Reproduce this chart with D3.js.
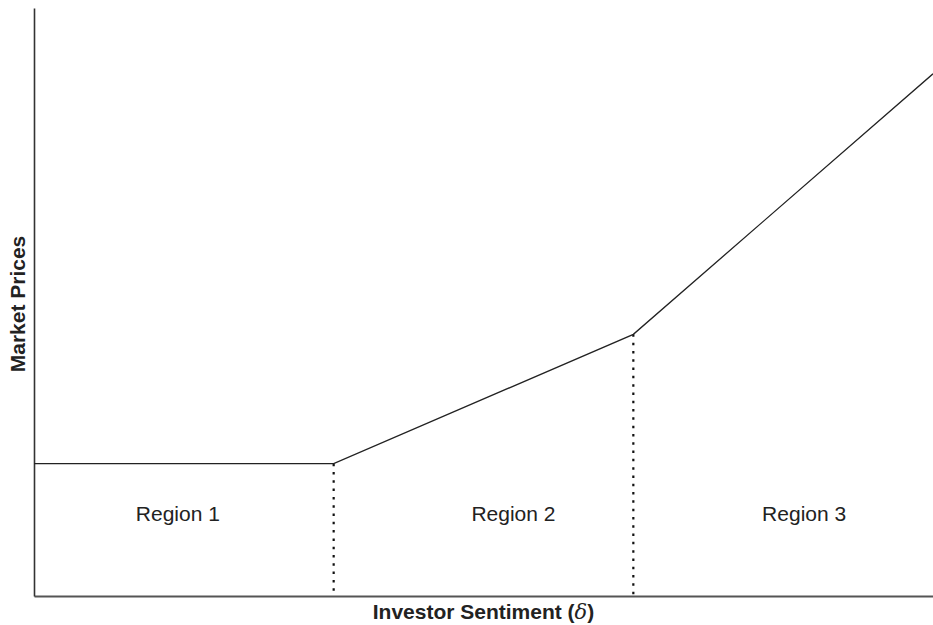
<!DOCTYPE html>
<html>
<head>
<meta charset="utf-8">
<style>
  body { margin: 0; background: #fff; }
  svg { display: block; }
</style>
</head>
<body>
<div id="chart"></div>
<script src="https://cdn.jsdelivr.net/npm/d3@7/dist/d3.min.js"></script>
<script>
  // price path over sentiment: flat, moderate slope, steep slope
  var sentiment = [0, 1, 2, 3];
  var prices = [2.25, 2.25, 4.45, 8.88];
  var kinks = [1, 2];
  var regionNames = ["Region 1", "Region 2", "Region 3"];
  var regionLabelX = [0.48, 1.6, 2.57];
  var regionLabelY = 1.28;

  (function () {
    var w = 933, h = 625;
    var mLeft = 34, mRight = 933, mTop = 8, mBottom = 596;

    var svg = d3.select("#chart").append("svg").attr("width", w).attr("height", h);

    var x = d3.scaleLinear().domain([0, 3]).range([mLeft, mRight]);
    var y = d3.scaleLinear().domain([0, 10]).range([mBottom, mTop]);

    // axes, drawn as plain lines with no ticks
    svg.append("g")
      .attr("transform", "translate(0," + mBottom + ")")
      .call(d3.axisBottom(x).tickValues([]).tickSizeOuter(0))
      .select(".domain").attr("stroke", "#555").attr("stroke-width", 2);

    svg.append("g")
      .attr("transform", "translate(" + mLeft + ",0)")
      .call(d3.axisLeft(y).tickValues([]).tickSizeOuter(0))
      .select(".domain").attr("stroke", "#333").attr("stroke-width", 1.6);

    // dotted region boundaries
    svg.selectAll("line.kink").data(kinks).enter().append("line")
      .attr("class", "kink")
      .attr("x1", function (d) { return x(d); })
      .attr("x2", function (d) { return x(d); })
      .attr("y1", function (d) { return y(prices[sentiment.indexOf(d)]); })
      .attr("y2", mBottom)
      .attr("stroke", "#111")
      .attr("stroke-width", 2.2)
      .attr("stroke-dasharray", "2.5,5.8");

    var line = d3.line()
      .x(function (d, i) { return x(sentiment[i]); })
      .y(function (d) { return y(d); });

    svg.append("path")
      .datum(prices)
      .attr("d", line)
      .attr("fill", "none")
      .attr("stroke", "#222")
      .attr("stroke-width", 1.3);

    svg.selectAll("text.region").data(regionNames).enter().append("text")
      .attr("class", "region")
      .text(function (d) { return d; })
      .attr("x", function (d, i) { return x(regionLabelX[i]); })
      .attr("y", y(regionLabelY))
      .attr("text-anchor", "middle")
      .attr("font-family", "Liberation Sans, Arial, sans-serif")
      .attr("font-size", 21)
      .attr("fill", "#222");

    var xl = svg.append("text")
      .attr("x", (mLeft + mRight) / 2)
      .attr("y", 619)
      .attr("text-anchor", "middle")
      .attr("font-family", "Liberation Sans, Arial, sans-serif")
      .attr("font-size", 21)
      .attr("font-weight", "bold")
      .attr("fill", "#222");
    xl.append("tspan").text("Investor Sentiment (");
    xl.append("tspan").text("δ")
      .attr("font-family", "DejaVu Serif, serif")
      .attr("font-style", "italic")
      .attr("font-weight", "normal");
    xl.append("tspan").text(")");

    svg.append("text")
      .text("Market Prices")
      .attr("transform", "translate(25," + ((mTop + mBottom) / 2 + 2) + ") rotate(-90)")
      .attr("text-anchor", "middle")
      .attr("font-family", "Liberation Sans, Arial, sans-serif")
      .attr("font-size", 21)
      .attr("font-weight", "bold")
      .attr("fill", "#222");
  })();
</script>
</body>
</html>
